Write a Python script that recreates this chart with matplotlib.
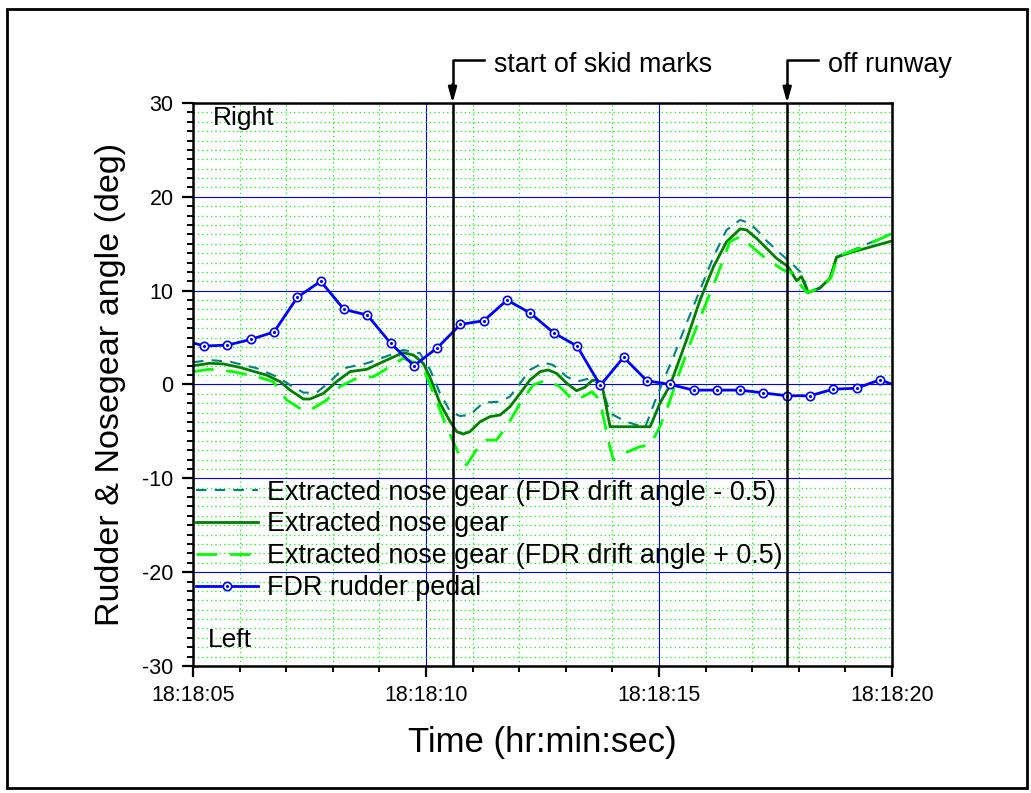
import matplotlib.pyplot as plt
from matplotlib.patches import Rectangle

plt.rcParams['font.family'] = ['Liberation Sans', 'DejaVu Sans']
plt.rcParams['axes.unicode_minus'] = False

# time in seconds after 18:18:00
PEDAL_T = [4.74, 5.24, 5.74, 6.24, 6.74, 7.24, 7.74, 8.24, 8.74, 9.24, 9.74,
           10.24, 10.74, 11.24, 11.74, 12.24, 12.74, 13.24, 13.74, 14.24, 14.74,
           15.24, 15.74, 16.24, 16.74, 17.24, 17.74, 18.24, 18.74, 19.24, 19.74,
           20.24]
PEDAL = [4.8, 4.1, 4.2, 4.8, 5.6, 9.3, 11.0, 8.0, 7.4, 4.4, 2.0,
         3.9, 6.4, 6.8, 9.0, 7.6, 5.5, 4.1, -0.1, 2.9, 0.4,
         0.0, -0.6, -0.6, -0.6, -0.9, -1.2, -1.2, -0.5, -0.4, 0.5,
         -0.4]

NOSE_T = [5.0, 5.36, 5.65, 6.0, 6.37, 6.58, 6.87, 7.08, 7.37, 7.51, 7.8,
          8.08, 8.37, 8.73, 9.08, 9.51, 9.73, 9.94, 10.09, 10.3, 10.52, 10.66,
          10.8, 10.94, 11.16, 11.37, 11.59, 11.8, 12.02, 12.23, 12.45, 12.62,
          12.8, 13.02, 13.23, 13.41, 13.56, 13.66, 13.77, 13.95, 14.81, 15.02,
          15.24, 15.59, 15.88, 16.17, 16.45, 16.74, 16.88, 17.09, 17.31, 17.52,
          17.77, 17.95, 18.06, 18.2, 18.45, 18.67, 18.81, 19.1, 20.0]
NOSE = [2.0, 2.26, 2.19, 1.83, 1.3, 1.0, 0.3, -0.59, -1.55, -1.55, -0.94,
        0.3, 1.37, 1.62, 2.43, 3.39, 3.14, 2.26, 0.7, -2.0, -3.97, -5.03,
        -5.28, -5.03, -3.97, -3.43, -3.25, -2.37, -0.94, 0.48, 1.37, 1.55,
        1.19, 0.13, -0.66, -0.3, 0.41, 0.48, 0.13, -4.5, -4.5, -2.0,
        -0.05, 4.74, 9.0, 12.56, 15.22, 16.58, 16.47, 15.59, 14.5, 13.45,
        12.56, 11.07, 11.5, 9.79, 10.26, 11.32, 13.56, 14.05, 15.3]

MINUS_T = [5.0, 5.36, 5.79, 6.37, 6.8, 7.08, 7.37, 7.65, 7.94, 8.23, 8.73,
           9.23, 9.51, 9.87, 10.09, 10.3, 10.52, 10.73, 10.94, 11.23, 11.59,
           11.8, 12.02, 12.23, 12.52, 12.73, 13.02, 13.23, 13.52, 13.77, 13.95,
           14.3, 14.7, 14.95, 15.31, 15.59, 15.88, 16.17, 16.45, 16.74, 16.95,
           17.24, 17.31, 17.6, 17.88, 18.06, 18.2, 18.45, 18.67, 18.81, 19.17,
           20.0]
MINUS = [2.37, 2.6, 2.43, 1.73, 0.83, -0.05, -0.87, -0.87, 0.3, 1.73, 2.26,
         3.14, 3.68, 3.33, 1.55, -0.94, -2.9, -3.36, -3.25, -1.94, -1.83,
         -1.3, 0.13, 1.55, 2.33, 2.08, 0.83, 0.3, 0.66, -0.23, -3.07,
         -3.97, -4.6, -1.3, 2.96, 6.52, 10.07, 13.63, 16.47, 17.54, 17.18,
         15.76, 15.3, 13.99, 12.74, 11.86, 9.9, 10.3, 11.4, 13.6, 14.34,
         16.1]

PLUS_T = [5.0, 5.36, 5.86, 6.37, 6.72, 7.01, 7.37, 7.58, 7.87, 8.15, 8.51,
          8.87, 9.23, 9.51, 9.8, 9.94, 10.16, 10.44, 10.73, 10.87, 11.08, 11.3,
          11.51, 11.73, 12.02, 12.3, 12.59, 12.87, 13.15, 13.37, 13.56, 13.73,
          13.91, 14.02, 14.16, 14.59, 14.81, 15.02, 15.24, 15.38, 15.67, 15.95,
          16.24, 16.52, 16.74, 16.95, 17.24, 17.38, 17.67, 17.81, 18.17, 18.52,
          18.7, 18.84, 19.31, 20.0]
PLUS = [1.37, 1.62, 1.37, 0.83, 0.3, -1.65, -2.79, -2.54, -1.65, -0.23, 0.66,
        0.83, 1.9, 2.79, 2.26, 1.73, -0.94, -4.5, -7.7, -8.58, -6.98, -5.92,
        -5.92, -4.5, -2.0, -0.05, 0.48, -0.23, -1.65, -1.3, -0.77, -1.65,
        -5.92, -8.05, -7.52, -6.63, -6.45, -4.5, -1.65, 0.48, 4.39, 7.94,
        11.5, 15.22, 15.76, 14.87, 13.63, 13.1, 12.2, 12.03, 9.79, 10.36,
        11.5, 13.7, 14.52, 16.1]

EVENTS = [(10.57, 'start of skid marks'), (17.75, 'off runway')]
X_TICKS = [5, 10, 15, 20]
X_LABELS = ['18:18:05', '18:18:10', '18:18:15', '18:18:20']

fig = plt.figure(figsize=(10.31, 7.93), dpi=100)
ax = fig.add_axes([0.1872, 0.1602, 0.678, 0.7099])

ax.set_xlim(5, 20)
ax.set_ylim(-30, 30)
ax.set_xticks(X_TICKS)
ax.set_xticklabels(X_LABELS)
ax.set_xticks(range(5, 21), minor=True)
ax.set_yticks(range(-30, 31, 10))
ax.set_yticks(range(-30, 31), minor=True)
ax.tick_params(which='major', direction='out', length=8, width=1.6, labelsize=15.5, pad=6)
ax.tick_params(which='minor', direction='out', length=4.5, width=1.4)
for s in ax.spines.values():
    s.set_linewidth(1.8)

ax.grid(which='minor', color='#00ff00', linestyle=(0, (1, 2.5)), linewidth=0.9)
ax.grid(which='major', color='#0000ff', linestyle='-', linewidth=0.8)
ax.set_axisbelow(True)

l1, = ax.plot(MINUS_T, MINUS, color='#008080', lw=1.5, ls=(0, (5, 4)),
              label='Extracted nose gear (FDR drift angle - 0.5)')
l2, = ax.plot(NOSE_T, NOSE, color='#008000', lw=2.0,
              label='Extracted nose gear')
l3, = ax.plot(PLUS_T, PLUS, color='#00ff00', lw=2.0, ls=(0, (7.5, 4.5)),
              label='Extracted nose gear (FDR drift angle + 0.5)')
l4, = ax.plot(PEDAL_T, PEDAL, color='#0000ff', lw=2.0, marker='o', ms=6,
              mfc='white', mec='#0000ff', mew=1.2)
d4, = ax.plot(PEDAL_T, PEDAL, ls='none', marker='.', ms=2.5, color='#0000ff')

# event lines with arrows above the plot
for x, txt in EVENTS:
    ax.plot([x, x], [-30, 30], color='black', lw=1.8, zorder=5)
    ax.plot([x, x, x + 0.67], [31.5, 34.6, 34.6], color='black', lw=1.8,
            clip_on=False, zorder=5)
    ax.annotate('', xy=(x, 30), xytext=(x, 32),
                arrowprops=dict(arrowstyle='-|>,head_length=0.9,head_width=0.25',
                                color='black', lw=1.8, shrinkA=0, shrinkB=0),
                annotation_clip=False)
    ax.text(x + 0.88, 34.0, txt, fontsize=19.4, va='center', ha='left')

ax.text(5.43, 28.4, 'Right', fontsize=19, va='center', ha='left')
ax.text(5.32, -27.2, 'Left', fontsize=19, va='center', ha='left')

ax.legend([l1, l2, l3, (l4, d4)],
          [l1.get_label(), l2.get_label(), l3.get_label(), 'FDR rudder pedal'],
          loc='upper left', bbox_to_anchor=(0.0, 0.336), frameon=False,
          fontsize=19.4, handlelength=2.3, handletextpad=0.33,
          labelspacing=0.22, borderaxespad=0, borderpad=0.1)

ax.set_xlabel('Time (hr:min:sec)', fontsize=25, labelpad=14)
ax.set_ylabel('Rudder & Nosegear angle (deg)', fontsize=24.6, labelpad=12)

fig.patches.append(Rectangle((7 / 1031, 5 / 793), 1020 / 1031, 779 / 793,
                             transform=fig.transFigure, fill=False,
                             edgecolor='black', lw=2.0))

fig.savefig('out.png', dpi=100)
